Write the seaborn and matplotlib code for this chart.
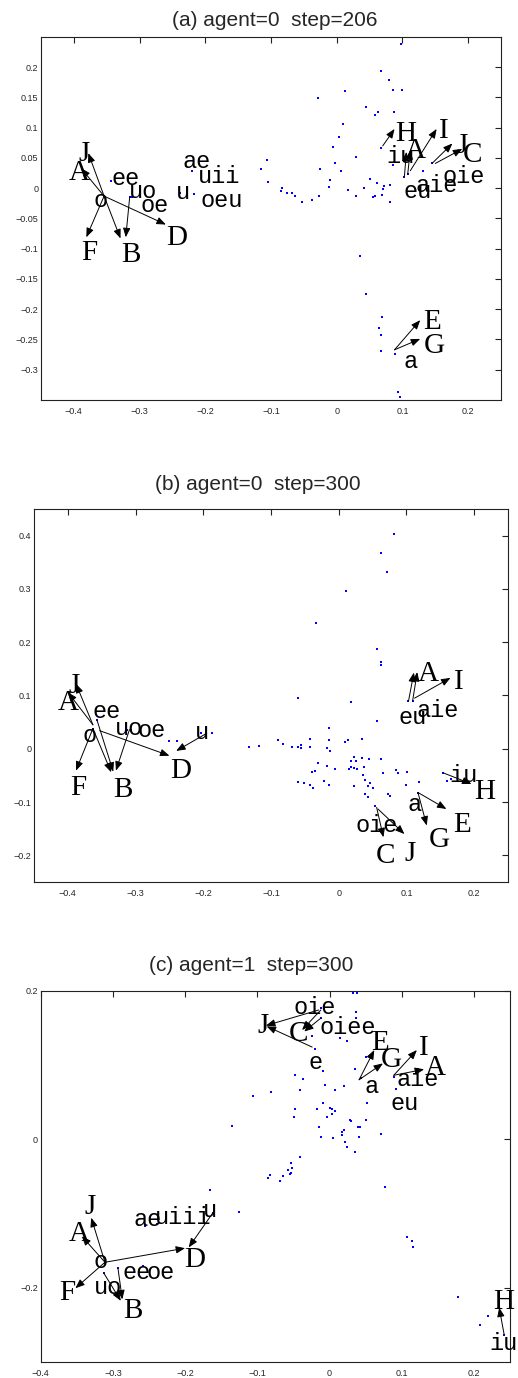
import matplotlib
matplotlib.use('Agg')
import matplotlib.pyplot as plt
import seaborn as sns
from matplotlib.ticker import FixedLocator, FuncFormatter

# ---- Panel titles and axis setup ----

titles = ['(a) agent=0  step=206', '(b) agent=0  step=300', '(c) agent=1  step=300']
xlims = [(-0.45, 0.25), (-0.45, 0.25), (-0.4, 0.25)]
ylims = [(-0.35, 0.25), (-0.25, 0.45), (-0.3, 0.2)]
xticks = [[-0.4, -0.3, -0.2, -0.1, 0, 0.1, 0.2]] * 3
yticks = [[-0.3, -0.25, -0.2, -0.15, -0.1, -0.05, 0, 0.05, 0.1, 0.15, 0.2],
          [-0.2, -0.1, 0, 0.1, 0.2, 0.3, 0.4],
          [-0.2, 0, 0.2]]

# ---- Panel (a): agent=0 step=206 ----

a_dot_x = [0.098, 0.068, 0.080, 0.085, 0.100, 0.013, -0.028, 0.044, 0.063, 0.059, 0.087, 0.009,
           0.003, -0.005, 0.068, 0.029, -0.002, 0.086, -0.106, -0.115, -0.025, 0.007, 0.131, 0.145,
           0.103, 0.108, -0.104, -0.010, 0.050, 0.062, 0.072, 0.081, -0.011, -0.084, 0.042, -0.085,
           -0.075, -0.068, -0.063, 0.017, 0.070, 0.029, 0.059, 0.069, -0.027, -0.037, -0.053, 0.055,
           0.081, 0.036, 0.044, 0.069, 0.065, 0.067, 0.068, 0.088, 0.094, 0.097,
           -0.354, -0.343, -0.315, -0.311, -0.220, -0.229, -0.238, -0.217]
a_dot_y = [0.238, 0.193, 0.179, 0.162, 0.163, 0.161, 0.149, 0.134, 0.126, 0.121, 0.126, 0.106,
           0.084, 0.069, 0.067, 0.051, 0.041, 0.038, 0.046, 0.031, 0.031, 0.028, 0.029, 0.041,
           0.019, 0.023, 0.010, 0.014, 0.015, 0.008, 0.003, 0.006, 0.002, 0.000, 0.000, -0.005,
           -0.008, -0.008, -0.013, -0.003, -0.002, -0.013, -0.012, -0.011, -0.012, -0.019, -0.022, -0.015,
           -0.022, -0.112, -0.174, -0.213, -0.231, -0.242, -0.269, -0.274, -0.336, -0.345,
           -0.013, 0.012, -0.014, -0.014, 0.029, 0.037, -0.008, -0.010]

a_words = ['o', 'ee', 'uo', 'oe', 'ae', 'uii', 'u', 'oeu', 'iu', 'eu', 'aie', 'oie', 'a']
a_word_x = [-0.370, -0.343, -0.316, -0.298, -0.234, -0.211, -0.245, -0.208, 0.075, 0.102, 0.120, 0.161, 0.102]
a_word_y = [-0.021, 0.016, -0.006, -0.028, 0.045, 0.020, -0.007, -0.021, 0.053, -0.006, 0.005, 0.020, -0.287]

a_letters = ['J', 'A', 'F', 'B', 'D', 'H', 'A', 'I', 'J', 'C', 'E', 'G']
a_letter_x = [-0.384, -0.392, -0.376, -0.313, -0.244, 0.105, 0.120, 0.163, 0.190, 0.206, 0.145, 0.148]
a_letter_y = [0.056, 0.026, -0.107, -0.111, -0.083, 0.089, 0.062, 0.095, 0.070, 0.055, -0.221, -0.260]

a_from_x = [-0.354, -0.354, -0.354, -0.354, -0.315, -0.354, 0.070, 0.103, 0.108, 0.112, 0.145, 0.150, 0.088, 0.088]
a_from_y = [-0.013, -0.013, -0.013, -0.013, -0.014, -0.013, 0.070, 0.019, 0.023, 0.029, 0.041, 0.041, -0.267, -0.267]
a_to_x = [-0.378, -0.389, -0.381, -0.329, -0.321, -0.260, 0.088, 0.106, 0.112, 0.152, 0.176, 0.191, 0.127, 0.127]
a_to_y = [0.058, 0.033, -0.081, -0.083, -0.081, -0.060, 0.098, 0.060, 0.063, 0.098, 0.074, 0.065, -0.218, -0.249]

# ---- Panel (b): agent=0 step=300 ----

b_dot_x = [0.082, 0.062, 0.072, 0.011, -0.034, 0.057, 0.062, 0.062, -0.060, 0.018, 0.103, 0.109,
           0.056, -0.015, -0.090, -0.042, -0.014, 0.014, 0.009, 0.035, -0.133, -0.118, -0.083, -0.069,
           -0.060, -0.055, -0.055, -0.043, -0.018, -0.013, 0.023, 0.018, 0.026, 0.034, 0.044, 0.062,
           -0.031, -0.018, -0.005, 0.015, 0.018, 0.022, 0.027, 0.038, -0.040, -0.035, 0.065, 0.085,
           0.088, 0.101, 0.036, -0.060, -0.052, -0.042, -0.038, -0.021, -0.015, 0.023, 0.039, 0.043,
           0.046, 0.050, 0.100, 0.118, 0.039, 0.043, 0.073, 0.076, 0.054, 0.117, 0.154, 0.160, 0.166,
           -0.363, -0.357, -0.312, -0.307, -0.251, -0.239, -0.204, -0.187]
b_dot_y = [0.403, 0.367, 0.331, 0.296, 0.236, 0.188, 0.162, 0.158, 0.096, 0.088, 0.089, 0.089,
           0.053, 0.039, 0.017, 0.019, 0.017, 0.017, 0.013, 0.018, 0.003, 0.005, 0.009, 0.004,
           0.004, 0.007, 0.001, 0.004, 0.001, -0.005, -0.015, -0.023, -0.023, -0.017, -0.019, -0.019,
           -0.026, -0.033, -0.037, -0.038, -0.035, -0.036, -0.037, -0.035, -0.043, -0.041, -0.045, -0.039,
           -0.045, -0.043, -0.049, -0.063, -0.065, -0.068, -0.073, -0.061, -0.068, -0.070, -0.058, -0.070,
           -0.065, -0.073, -0.068, -0.063, -0.084, -0.090, -0.085, -0.088, -0.108, -0.083, -0.045, -0.061, -0.056,
           0.038, 0.054, 0.036, 0.036, 0.014, 0.015, 0.029, 0.029]

b_words = ['o', 'ee', 'uo', 'oe', 'u', 'eu', 'aie', 'iu', 'a', 'oie']
b_word_x = [-0.378, -0.364, -0.331, -0.297, -0.212, 0.088, 0.115, 0.164, 0.102, 0.025]
b_word_y = [0.025, 0.070, 0.038, 0.034, 0.031, 0.059, 0.071, -0.050, -0.105, -0.144]

b_letters = ['J', 'A', 'F', 'B', 'D', 'A', 'I', 'H', 'E', 'G', 'C', 'J']
b_letter_x = [-0.391, -0.400, -0.384, -0.319, -0.234, 0.132, 0.177, 0.216, 0.182, 0.148, 0.069, 0.105]
b_letter_y = [0.117, 0.085, -0.073, -0.078, -0.041, 0.141, 0.126, -0.082, -0.143, -0.172, -0.201, -0.197]

b_from_x = [-0.363, -0.363, -0.363, -0.363, -0.357, -0.309, -0.353, -0.195, 0.103, 0.109, 0.112, 0.154, 0.117, 0.117, 0.056, 0.058]
b_from_y = [0.045, 0.045, 0.038, 0.038, 0.054, 0.036, 0.034, 0.029, 0.089, 0.089, 0.095, -0.045, -0.082, -0.082, -0.110, -0.113]
b_to_x = [-0.388, -0.400, -0.388, -0.336, -0.333, -0.329, -0.250, -0.240, 0.111, 0.116, 0.165, 0.196, 0.159, 0.130, 0.066, 0.097]
b_to_y = [0.122, 0.106, -0.041, -0.044, -0.043, -0.041, -0.013, -0.004, 0.143, 0.144, 0.133, -0.066, -0.113, -0.144, -0.166, -0.160]

# ---- Panel (c): agent=1 step=300 ----

c_dot_x = [0.032, 0.038, -0.012, 0.037, -0.012, 0.037, -0.024, 0.015, 0.024, -0.020, 0.051, 0.035,
           -0.009, 0.043, -0.048, -0.037, -0.006, 0.007, 0.020, -0.041, -0.106, -0.081, 0.052, -0.048,
           -0.009, -0.018, 0.000, 0.003, 0.007, -0.049, -0.004, 0.003, 0.028, 0.030, 0.051, -0.135,
           -0.014, 0.020, 0.018, 0.040, 0.042, 0.072, -0.012, 0.005, 0.017, 0.022, 0.024, 0.041,
           0.035, -0.041, -0.054, -0.052, -0.053, -0.058, -0.055, -0.064, -0.069, -0.083, -0.085,
           -0.166, -0.126, -0.162, 0.077, 0.108, 0.114, 0.116, 0.178, 0.219, 0.209, 0.242,
           -0.256, -0.239, -0.311, -0.313, -0.293, -0.258, 0.089, 0.092]
c_dot_y = [0.197, 0.197, 0.177, 0.171, 0.163, 0.163, 0.139, 0.136, 0.132, 0.122, 0.110, 0.095,
           0.092, 0.082, 0.086, 0.081, 0.073, 0.066, 0.071, 0.066, 0.058, 0.064, 0.048, 0.041,
           0.048, 0.041, 0.042, 0.041, 0.038, 0.030, 0.030, 0.034, 0.026, 0.024, 0.026, 0.018,
           0.016, 0.012, 0.010, 0.016, 0.016, 0.007, 0.003, 0.001, 0.006, -0.004, -0.010, 0.003,
           -0.018, -0.024, -0.032, -0.039, -0.046, -0.042, -0.047, -0.050, -0.057, -0.049, -0.052,
           -0.068, -0.098, -0.100, -0.064, -0.132, -0.137, -0.146, -0.213, -0.239, -0.250, -0.264,
           -0.117, -0.114, -0.167, -0.180, -0.174, -0.171, 0.084, 0.068]

c_words = ['oie', 'oiee', 'e', 'a', 'aie', 'eu', 'ae', 'uiii', 'u', 'o', 'ee', 'oe', 'uo', 'iu']
c_word_x = [-0.050, -0.014, -0.029, 0.048, 0.093, 0.084, -0.271, -0.242, -0.176, -0.327, -0.287, -0.253, -0.327, 0.221]
c_word_y = [0.178, 0.151, 0.103, 0.071, 0.080, 0.048, -0.108, -0.106, -0.096, -0.165, -0.180, -0.180, -0.200, -0.275]

c_letters = ['J', 'A', 'F', 'B', 'D', 'H', 'J', 'C', 'E', 'G', 'I', 'A']
c_letter_x = [-0.331, -0.347, -0.363, -0.272, -0.187, 0.241, -0.092, -0.043, 0.070, 0.086, 0.130, 0.146]
c_letter_y = [-0.091, -0.128, -0.208, -0.231, -0.163, -0.219, 0.152, 0.142, 0.130, 0.107, 0.123, 0.096]

c_from_x = [-0.311, -0.311, -0.311, -0.313, -0.293, -0.311, -0.162, 0.242, -0.015, -0.024, -0.012, -0.012, 0.041, 0.041, 0.089, 0.089]
c_from_y = [-0.166, -0.166, -0.166, -0.180, -0.174, -0.166, -0.100, -0.264, 0.174, 0.124, 0.174, 0.163, 0.080, 0.080, 0.086, 0.086]
c_to_x = [-0.330, -0.343, -0.352, -0.289, -0.287, -0.200, -0.195, 0.235, -0.088, -0.087, -0.038, -0.035, 0.062, 0.074, 0.121, 0.131]
c_to_y = [-0.106, -0.131, -0.201, -0.218, -0.216, -0.147, -0.146, -0.227, 0.153, 0.152, 0.147, 0.145, 0.120, 0.102, 0.120, 0.094]

# ---- Figure ----

sns.set_style('white')
plt.rcParams['font.family'] = ['Liberation Sans', 'DejaVu Sans']

fig = plt.figure(figsize=(5.18, 13.78), dpi=100)
W, H = 518, 1378

# axes boxes in pixels: left, top, right, bottom
boxes = [(41, 37, 501, 400), (34, 509, 508, 882), (40.7, 990.7, 510, 1361.7)]
title_pos = [(275, 20), (258, 484), (251, 965.5)]

panels = [
    (a_dot_x, a_dot_y, a_words, a_word_x, a_word_y, a_letters, a_letter_x, a_letter_y,
     a_from_x, a_from_y, a_to_x, a_to_y),
    (b_dot_x, b_dot_y, b_words, b_word_x, b_word_y, b_letters, b_letter_x, b_letter_y,
     b_from_x, b_from_y, b_to_x, b_to_y),
    (c_dot_x, c_dot_y, c_words, c_word_x, c_word_y, c_letters, c_letter_x, c_letter_y,
     c_from_x, c_from_y, c_to_x, c_to_y),
]


def tick_fmt(v, pos):
    s = f"{v:g}"
    if s == '-0':
        s = '0'
    return s.replace('-', '\u2212')


for i, p in enumerate(panels):
    dx, dy, words, wx, wy, letters, lx, ly, fx, fy, tx, ty = p
    l, t, r, b = boxes[i]
    ax = fig.add_axes([l / W, 1 - b / H, (r - l) / W, (b - t) / H])

    sns.scatterplot(x=dx, y=dy, ax=ax, color='blue', s=4, marker='s', linewidth=0)

    for k in range(len(fx)):
        ax.annotate('', xy=(tx[k], ty[k]), xytext=(fx[k], fy[k]),
                    arrowprops=dict(arrowstyle='-|>,head_length=0.55,head_width=0.22',
                                    color='black', lw=0.7, shrinkA=0, shrinkB=0,
                                    mutation_scale=10))

    for k in range(len(words)):
        ax.text(wx[k], wy[k], words[k], family='Liberation Mono', fontsize=17,
                ha='left', va='center', color='black')

    for k in range(len(letters)):
        ax.text(lx[k], ly[k], letters[k], family='Liberation Serif', fontsize=21,
                ha='center', va='center', color='black')

    ax.set_xlim(*xlims[i])
    ax.set_ylim(*ylims[i])
    ax.xaxis.set_major_locator(FixedLocator(xticks[i]))
    ax.yaxis.set_major_locator(FixedLocator(yticks[i]))
    ax.xaxis.set_major_formatter(FuncFormatter(tick_fmt))
    ax.yaxis.set_major_formatter(FuncFormatter(tick_fmt))
    ax.tick_params(direction='in', top=True, right=True, length=4, width=0.8,
                   labelsize=6.5, color='#222222')
    ax.tick_params(axis='x', pad=5)
    ax.tick_params(axis='y', pad=2)
    for sp in ax.spines.values():
        sp.set_linewidth(0.8)
        sp.set_color('#222222')
    ax.set_xlabel('')
    ax.set_ylabel('')

    fig.text(title_pos[i][0] / W, 1 - title_pos[i][1] / H, titles[i],
             fontsize=15, ha='center', va='center')

fig.savefig('out.png', dpi=100)
